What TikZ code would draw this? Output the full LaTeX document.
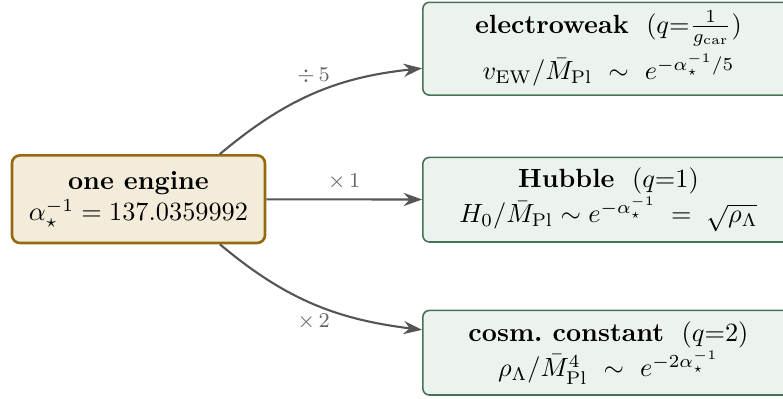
\documentclass[tikz,border=0pt]{standalone}
\usepackage{amsfonts,amssymb,amsmath}
\usepackage{color}
\usetikzlibrary{arrows.meta}

\definecolor{enginefill}{RGB}{244,236,219}
\definecolor{enginedraw}{RGB}{150,105,15}
\definecolor{regimefill}{RGB}{236,243,238}
\definecolor{regimedraw}{RGB}{70,115,85}
\definecolor{flowgray}{RGB}{85,85,85}
\definecolor{lblgray}{RGB}{100,100,100}

\tikzset{
    engine/.style={rectangle,rounded corners=3pt,draw=enginedraw,line width=1pt,
        fill=enginefill,align=center,minimum width=3.38cm,minimum height=1.17cm,inner sep=2pt},
    regime/.style={rectangle,rounded corners=2.5pt,draw=regimedraw,line width=0.6pt,
        fill=regimefill,align=center,minimum width=4.96cm,minimum height=1.13cm,inner sep=3pt,anchor=west},
    flow/.style={-{Stealth[length=7pt,width=5pt]},line width=0.8pt,draw=flowgray},
    lbl/.style={font=\footnotesize,text=lblgray}
}

\begin{document}
\begin{tikzpicture}
    \useasboundingbox (0,0) rectangle (10.46,5.32);
    \node[engine] at (1.85,2.659) (engine) {\textbf{one engine}\\$\alpha_\star^{-1} = 137.0359992$};
    \node[regime,minimum height=1.24cm] at (5.638,4.669) (ew) {\textbf{electroweak}\ \ $(q{=}\frac{1}{g_{\mathrm{car}}})$\\[2pt]
        $v_{\mathrm{EW}}/\bar M_{\mathrm{Pl}}\ \sim\ e^{-\alpha_\star^{-1}/5}$};
    \node[regime] at (5.638,2.652) (hub) {\textbf{Hubble}\ \ $(q{=}1)$\\
        $H_0/\bar M_{\mathrm{Pl}} \sim e^{-\alpha_\star^{-1}} \;=\; \sqrt{\rho_\Lambda}$};
    \node[regime] at (5.638,0.608) (cc) {\textbf{cosm.\ constant}\ \ $(q{=}2)$\\
        $\rho_\Lambda/\bar M_{\mathrm{Pl}}^4\ \sim\ e^{-2\alpha_\star^{-1}}$};
    %\draw[flow] (engine) to[bend left=12] (ew);
    \draw[flow] (engine.29) to[out=40,in=186] node[lbl,above,pos=0.5] {$\div\,5$} (ew);
    \draw[flow] (engine) -- node[lbl,above] {$\times\,1$} (hub);
    \draw[flow] (engine.-29) to[out=-40,in=173] node[lbl,below,pos=0.5] {$\times\,2$} (cc);
\end{tikzpicture}
\end{document}
